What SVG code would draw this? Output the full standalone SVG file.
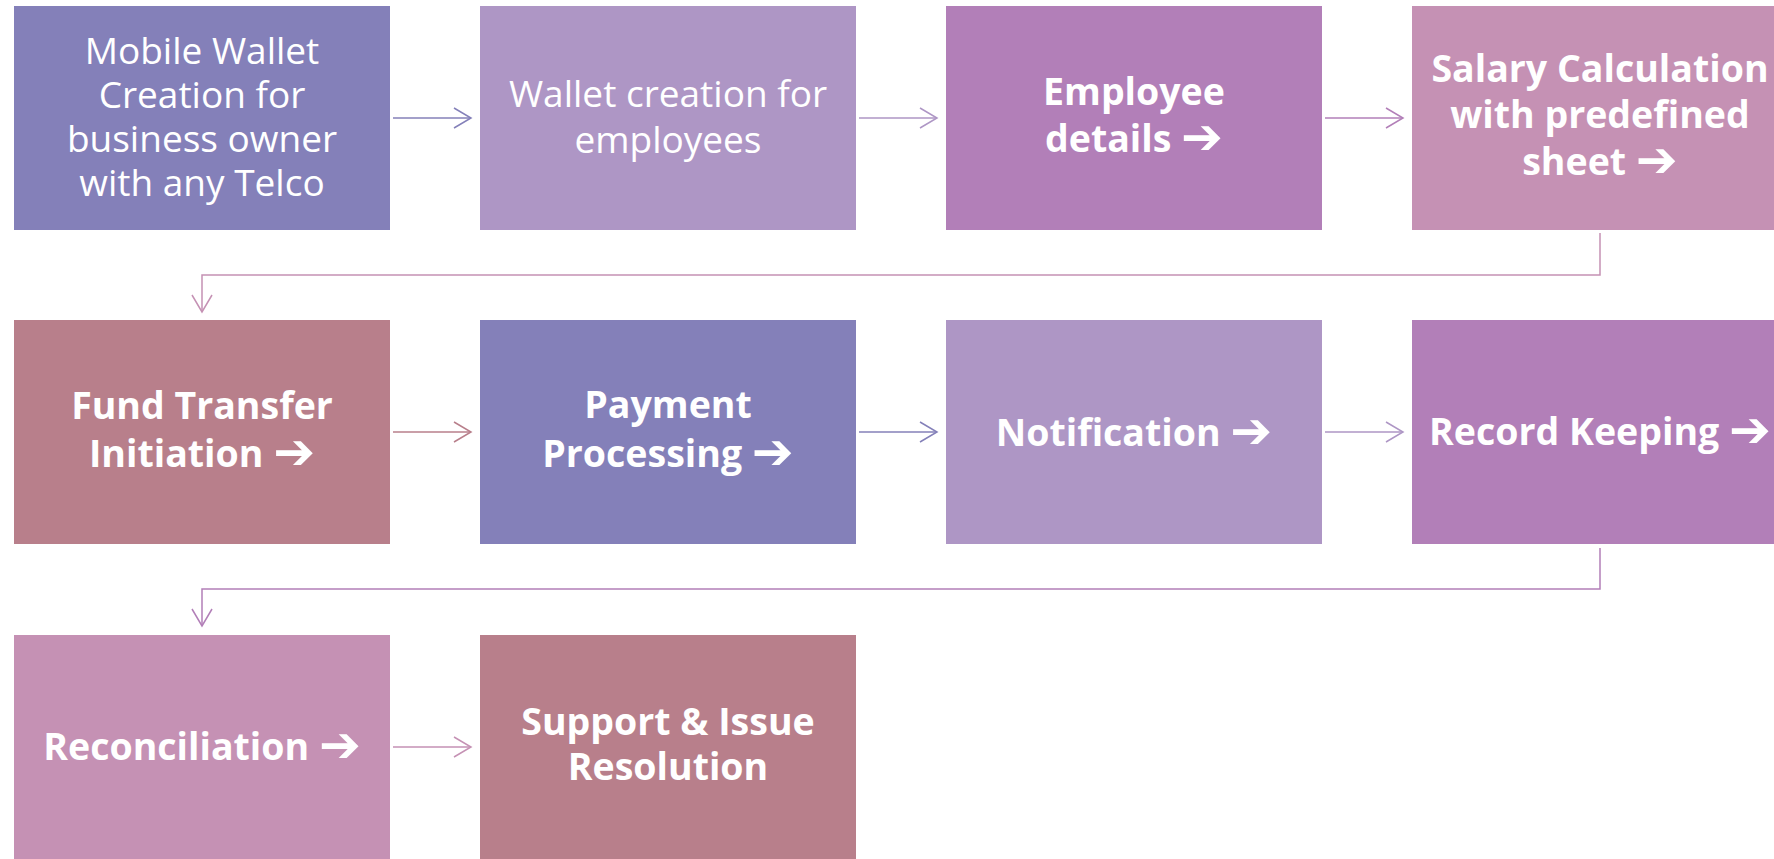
<svg xmlns="http://www.w3.org/2000/svg" width="1774" height="859" viewBox="0 0 1774 859">
<style>
  .box { stroke: none; }
  .t { fill: #ffffff; font-family: "Open Sans", "Noto Sans", "DejaVu Sans", sans-serif; font-size: 37px; text-anchor: middle; }
  .b { font-weight: bold; font-size: 37.5px; }
  .a { font-family: "DejaVu Sans", sans-serif; font-size: 50px; font-weight: bold; }
  .c { fill: none; stroke-width: 1.5; }
</style>
<defs>
  <marker id="m1" markerUnits="userSpaceOnUse" markerWidth="20" markerHeight="22" refX="18" refY="11" orient="auto"><path d="M1,1 L18,11 L1,21" fill="none" stroke="#8480B9" stroke-width="1.5"/></marker>
  <marker id="m2" markerUnits="userSpaceOnUse" markerWidth="20" markerHeight="22" refX="18" refY="11" orient="auto"><path d="M1,1 L18,11 L1,21" fill="none" stroke="#AE96C5" stroke-width="1.5"/></marker>
  <marker id="m3" markerUnits="userSpaceOnUse" markerWidth="20" markerHeight="22" refX="18" refY="11" orient="auto"><path d="M1,1 L18,11 L1,21" fill="none" stroke="#B27FB8" stroke-width="1.5"/></marker>
  <marker id="m4" markerUnits="userSpaceOnUse" markerWidth="20" markerHeight="22" refX="18" refY="11" orient="auto"><path d="M1,1 L18,11 L1,21" fill="none" stroke="#C591B4" stroke-width="1.5"/></marker>
  <marker id="m5" markerUnits="userSpaceOnUse" markerWidth="20" markerHeight="22" refX="18" refY="11" orient="auto"><path d="M1,1 L18,11 L1,21" fill="none" stroke="#B87F8B" stroke-width="1.5"/></marker>
</defs>
<rect width="1774" height="859" fill="#ffffff"/>
<g id="connectors">
  <path class="c" d="M393,118 H471" stroke="#8480B9" marker-end="url(#m1)"/>
  <path class="c" d="M859,118 H937" stroke="#AE96C5" marker-end="url(#m2)"/>
  <path class="c" d="M1325,118 H1403" stroke="#B27FB8" marker-end="url(#m3)"/>
  <path class="c" d="M1600,233 V275 H202 V312" stroke="#C591B4" marker-end="url(#m4)"/>
  <path class="c" d="M393,432 H471" stroke="#B87F8B" marker-end="url(#m5)"/>
  <path class="c" d="M859,432 H937" stroke="#8480B9" marker-end="url(#m1)"/>
  <path class="c" d="M1325,432 H1403" stroke="#AE96C5" marker-end="url(#m2)"/>
  <path class="c" d="M1600,548 V589 H202 V626" stroke="#B27FB8" marker-end="url(#m3)"/>
  <path class="c" d="M393,747 H471" stroke="#C591B4" marker-end="url(#m4)"/>
</g>
<g id="n1"><rect class="box" x="14" y="6" width="376" height="224" fill="#8480B9"/>
  <text class="t" x="202" y="64">Mobile Wallet</text><text class="t" x="202" y="108">Creation for</text><text class="t" x="202" y="152">business owner</text><text class="t" x="202" y="196">with any Telco</text></g>
<g id="n2"><rect class="box" x="480" y="6" width="376" height="224" fill="#AE96C5"/>
  <text class="t" x="668" y="107">Wallet creation for</text><text class="t" x="668" y="153">employees</text></g>
<g id="n3"><rect class="box" x="946" y="6" width="376" height="224" fill="#B27FB8"/>
  <text class="t b" x="1134" y="105">Employee</text><text class="t b" x="1134" y="152">details <tspan class="a" dy="2">➔</tspan></text></g>
<g id="n4"><rect class="box" x="1412" y="6" width="376" height="224" fill="#C591B4"/>
  <text class="t b" x="1600" y="82">Salary Calculation</text><text class="t b" x="1600" y="128">with predefined</text><text class="t b" x="1600" y="175">sheet <tspan class="a" dy="2">➔</tspan></text></g>
<g id="n5"><rect class="box" x="14" y="320" width="376" height="224" fill="#B87F8B"/>
  <text class="t b" x="202" y="419">Fund Transfer</text><text class="t b" x="202" y="467">Initiation <tspan class="a" dy="2">➔</tspan></text></g>
<g id="n6"><rect class="box" x="480" y="320" width="376" height="224" fill="#8480B9"/>
  <text class="t b" x="668" y="418">Payment</text><text class="t b" x="668" y="467">Processing <tspan class="a" dy="2">➔</tspan></text></g>
<g id="n7"><rect class="box" x="946" y="320" width="376" height="224" fill="#AE96C5"/>
  <text class="t b" x="1134" y="446">Notification <tspan class="a" dy="2">➔</tspan></text></g>
<g id="n8"><rect class="box" x="1412" y="320" width="376" height="224" fill="#B27FB8"/>
  <text class="t b" x="1600" y="445">Record Keeping <tspan class="a" dy="2">➔</tspan></text></g>
<g id="n9"><rect class="box" x="14" y="635" width="376" height="224" fill="#C591B4"/>
  <text class="t b" x="202" y="760">Reconciliation <tspan class="a" dy="2">➔</tspan></text></g>
<g id="n10"><rect class="box" x="480" y="635" width="376" height="224" fill="#B87F8B"/>
  <text class="t b" x="668" y="735">Support &amp; Issue</text><text class="t b" x="668" y="780">Resolution</text></g>
</svg>
